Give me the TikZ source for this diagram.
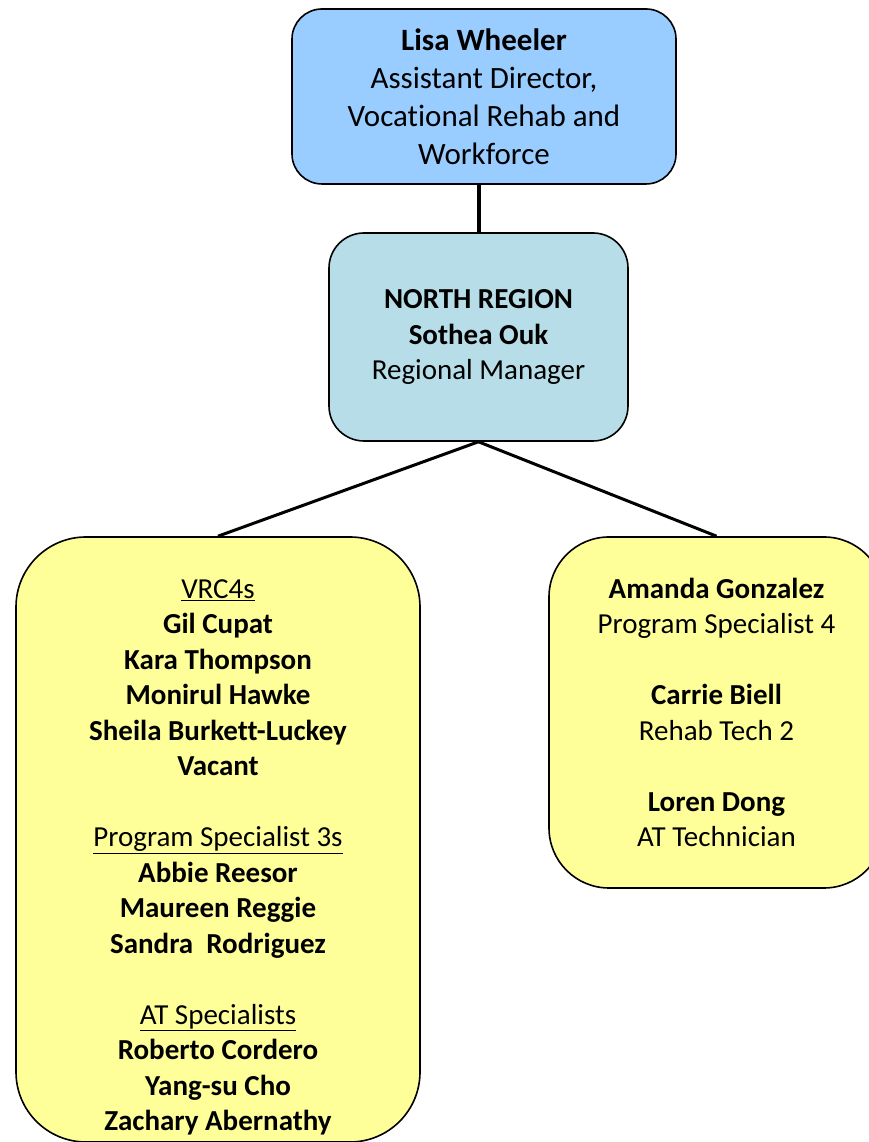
\documentclass[tikz,border=0pt]{standalone}
\usepackage{fontspec}
\setmainfont{Carlito}[Ligatures=NoCommon]
\usetikzlibrary{positioning}

\definecolor{headblue}{RGB}{153,204,255}
\definecolor{regionteal}{RGB}{183,222,232}
\definecolor{staffyellow}{RGB}{255,255,153}

\tikzset{
  orgbox/.style={draw=black, line width=1.6pt, align=center, inner sep=0pt},
  link/.style={black, line width=3pt},
  bodyfont/.style={font=\fontsize{29}{35.5}\selectfont}
}

\begin{document}
\begin{tikzpicture}[x=1pt, y=1pt]
    % Page frame (same size as the original picture)
    \useasboundingbox (0,0) rectangle (869,1142);
    \clip (0,0) rectangle (869,1142);

    % Assistant director at the top
    \node[orgbox, fill=headblue, rounded corners=30pt, minimum width=384pt, minimum height=175pt,
          font=\fontsize{31}{38}\selectfont] (lisa) at (484,1045.5)
        {\textbf{Lisa Wheeler}\\ Assistant Director,\\ Vocational Rehab and\\ Workforce};

    % Regional manager
    \node[orgbox, fill=regionteal, rounded corners=35pt, minimum width=299pt, minimum height=208pt,
          bodyfont] (north) at (478.5,805)
        {\textbf{NORTH REGION}\\ \textbf{Sothea Ouk}\\ Regional Manager};

    % Staff groups
    \node[orgbox, fill=staffyellow, rounded corners=70pt, minimum width=404pt, minimum height=605pt]
        (vrc) at (218,302.5) {};
    \node[align=center, bodyfont, inner sep=0pt] (vrclist) at ([yshift=-18pt]vrc.center)
        {\underline{VRC4s}\\ \textbf{Gil Cupat}\\ \textbf{Kara Thompson}\\ \textbf{Monirul Hawke}\\
         \textbf{Sheila Burkett-Luckey}\\ \textbf{Vacant}\\[35.5pt]
         \underline{Program Specialist 3s}\\ \textbf{Abbie Reesor}\\ \textbf{Maureen Reggie}\\
         \textbf{Sandra\ \ Rodriguez}\\[35.5pt]
         \underline{AT Specialists}\\ \textbf{Roberto Cordero}\\ \textbf{Yang-su Cho}\\
         \textbf{Zachary Abernathy}};

    \node[orgbox, fill=staffyellow, rounded corners=60pt, minimum width=335pt, minimum height=351pt,
          bodyfont] (spec) at (716.5,429.5)
        {\textbf{Amanda Gonzalez}\\ Program Specialist 4\\[35.5pt]
         \textbf{Carrie Biell}\\ Rehab Tech 2\\[35.5pt]
         \textbf{Loren Dong}\\ AT Technician};

    % Connectors
    \draw[black, line width=4pt] (lisa.south -| north.north) -- (north.north);
    \draw[link] (north.south) -- (vrc.north);
    \draw[link] (north.south) -- (spec.north);
\end{tikzpicture}
\end{document}
